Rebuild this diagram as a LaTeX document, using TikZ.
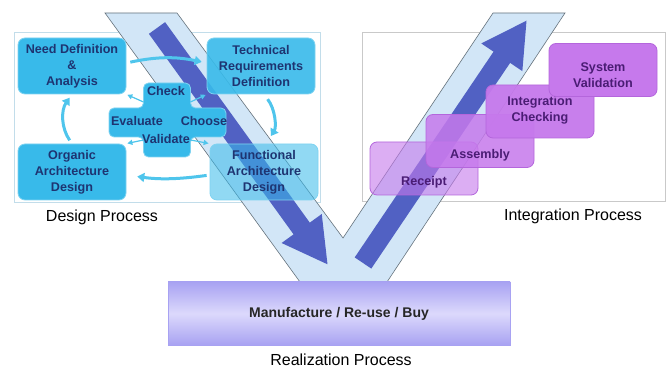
\documentclass[tikz,border=0pt]{standalone}
\usepackage{fontspec}
\setmainfont{Liberation Sans}
\usetikzlibrary{arrows.meta, calc, positioning}
\definecolor{themeCyan}{HTML}{38BAEA}
\definecolor{themeCyanEdge}{HTML}{7FD3F1}
\definecolor{themeNavy}{HTML}{1E3471}
\definecolor{themeFlow}{HTML}{4FC5EC}
\definecolor{themeBand}{HTML}{D2E6F7}
\definecolor{themeBandEdge}{HTML}{66737D}
\definecolor{themeBar}{HTML}{5161C3}
\definecolor{themePurple}{HTML}{C679EC}
\definecolor{themePurpleEdge}{HTML}{B466DC}
\definecolor{themePlum}{HTML}{4A1C74}
\definecolor{themeLavender}{HTML}{A8A2F2}
\definecolor{themeLavenderLight}{HTML}{DCD9FC}
\definecolor{themeFrame}{HTML}{C2DDEA}
\definecolor{themeGrey}{HTML}{C9C9C9}

\begin{document}
\begin{tikzpicture}[x=1pt, y=1pt,
        box font/.style={font=\bfseries\fontsize{12.6}{16}\selectfont},
        design box/.style={draw=themeCyanEdge, fill=themeCyan, line width=.8pt, rounded corners=7pt, minimum width=108pt, minimum height=56pt, align=center, text=themeNavy, box font, text opacity=1},
        cross text/.style={text=themeNavy, box font, inner sep=0pt},
        stage box/.style={draw=themePurpleEdge, fill=themePurple, line width=.8pt, rounded corners=7pt, minimum width=108pt, minimum height=53pt},
        stage text/.style={align=center, text=themePlum, box font},
        loop arrow/.style={draw=themeFlow, line width=3pt, -{Triangle[length=7pt, width=9pt]}},
        link/.style={draw=themeFlow, line width=1.2pt, -{Triangle[length=5pt, width=5pt]}, shorten >=1pt},
        band/.style={fill=themeBand, draw=themeBandEdge, line width=.6pt},
        bar/.style={draw=themeBar, line width=20pt, -{Triangle[length=45pt, width=46pt]}},
        panel/.style={fill=white, line width=1pt},
        process label/.style={font=\fontsize{16}{19}\selectfont, text=black}
    ]

    \useasboundingbox (0,0) rectangle (670,371);

    \draw[panel, draw=themeFrame] (14,168) rectangle (320,338);
    \draw[panel, draw=themeGrey] (362,169) rectangle (665,338);

    \draw[band] (105,358) -- (177,358) -- (343,133) -- (493,358) -- (565,358) -- (387,89) -- (300,89) -- cycle;

    \coordinate (down start) at (157,343);
    \coordinate (down tip) at (328,106);
    \coordinate (up start) at (363,108);
    \coordinate (up tip) at (527,351);
    \draw[bar] (down start) -- (down tip);
    \draw[bar] (up start) -- (up tip);

    \node[design box] (need) at (72,305) {Need Definition\\\&\\Analysis};
    \node[design box, fill opacity=.9] (tech) at (261,305) {Technical\\Requirements\\Definition};
    \node[design box] (organic) at (72,199) {Organic\\Architecture\\Design};
    \node[design box, fill opacity=.55] (functional) at (264,199) {Functional\\Architecture\\Design};

    \draw[draw=themeCyanEdge, fill=themeCyan, line width=.8pt, rounded corners=5pt] (143.5,288) -- (190.5,288) -- (190.5,263) -- (226,263) -- (226,234) -- (190.5,234) -- (190.5,214) -- (143.5,214) -- (143.5,234) -- (109,234) -- (109,263) -- (143.5,263) -- cycle;
    \node[cross text] (check) at (166,280) {Check};
    \node[cross text] (evaluate) at (137,250) {Evaluate};
    \node[cross text] (choose) at (204,250) {Choose};
    \node[cross text] (validate) at (166,232) {Validate};

    \coordinate (hub nw) at (143.5,269);
    \coordinate (hub ne) at (190.5,269);
    \coordinate (hub sw) at (143.5,231);
    \coordinate (hub se) at (190.5,231);
    \draw[link] (hub nw) -- (need.south east);
    \draw[link] (hub ne) -- (tech.south west);
    \draw[link] (hub sw) -- (organic.north east);
    \draw[link] (hub se) -- (functional.north west);

    \draw[loop arrow, shorten <=4pt, shorten >=5pt] ([yshift=3pt]need.east) to[bend left=12] ([yshift=3pt]tech.west);
    \draw[loop arrow, shorten <=6pt, shorten >=9pt] ([xshift=3pt]tech.south) to[bend left=35] ([xshift=2pt]functional.north);
    \draw[loop arrow, shorten <=3pt, shorten >=11pt] ([yshift=-3pt]functional.west) to[bend left=8] ([yshift=-3pt]organic.east);
    \draw[loop arrow, shorten <=4pt, shorten >=4pt] (organic.north) to[bend left=35] (need.south);

    \foreach \name/\cx/\cy/\dy/\amount/\txt in {receipt/424/202.5/-14/.6/Receipt, assembly/480/230/-14/.85/Assembly, checking/540/259.5/1.5/.95/{Integration\\Checking}, validation/603/301/-5/1/{System\\Validation}} {
        \node[stage box, fill opacity=\amount] (\name) at (\cx,\cy) {};
        \node[stage text] (\name text) at ([yshift=\dy pt]\name) {\txt};
    }

    \node[draw=themeLavender, top color=themeLavender, bottom color=themeLavender, middle color=themeLavenderLight, minimum width=342pt, minimum height=63pt, font=\bfseries\fontsize{14}{17}\selectfont, text=black!85] (realization) at (339,57.5) {Manufacture / Re-use / Buy};

    \node[process label] (design label) at (102,154) {Design Process};
    \node[process label] (integration label) at (573,155) {Integration Process};
    \node[process label] (realization label) at (341,11) {Realization Process};

\end{tikzpicture}
\end{document}
